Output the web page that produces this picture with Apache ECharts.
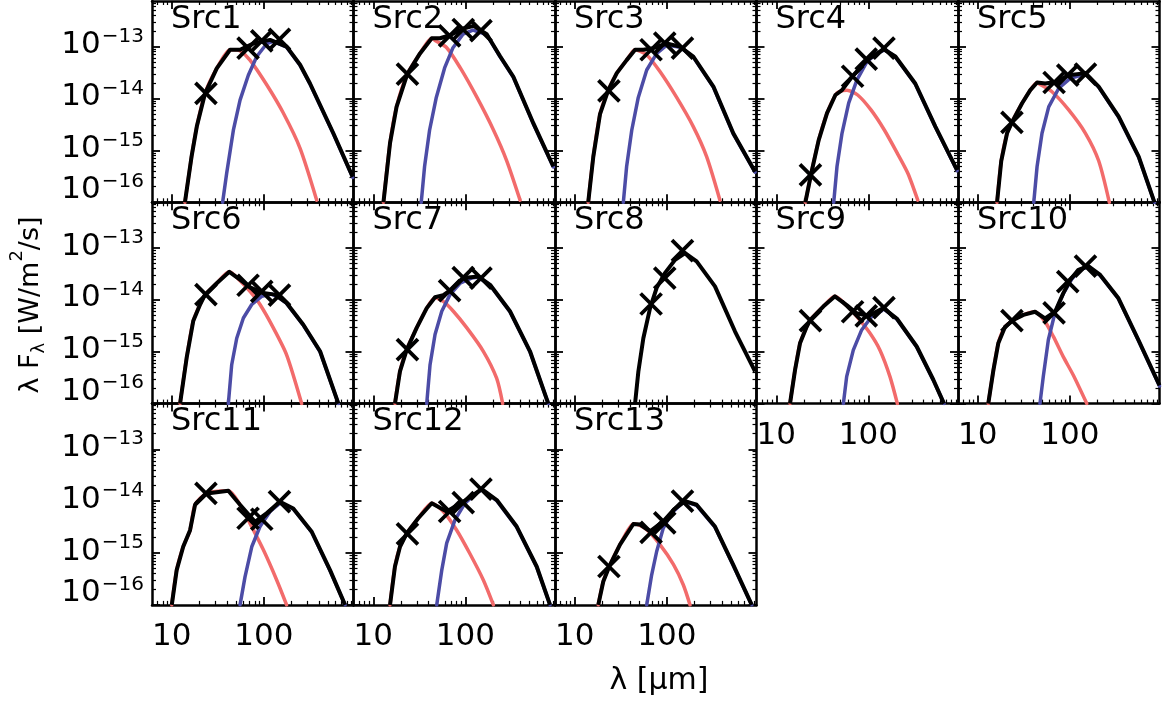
<!DOCTYPE html>
<html>
<head>
<meta charset="utf-8">
<script src="https://cdn.jsdelivr.net/npm/echarts@6.0.0/dist/echarts.min.js"></script>
<style>
html,body{margin:0;padding:0;background:#fff;}
#chart{width:1164px;height:704px;}
</style>
</head>
<body>
<div id="chart"></div>
<script>
// ---------------- DATA ----------------
// wavelengths in micron, fluxes lambda*F_lambda in W/m^2
const sourceNames = ['Src1','Src2','Src3','Src4','Src5','Src6','Src7','Src8','Src9','Src10','Src11','Src12','Src13'];
const bandWavelengths = [23.5, 67.5, 95, 148];
const xTickValues = [10, 100];
const yTickValues = [1e-16, 1e-15, 1e-14, 1e-13];

const src1Total = [[13.9,1.0e-16],[16.4,7.59e-16],[18.7,2.88e-15],[23.0,1.26e-14],[30.8,3.80e-14],[43.0,8.71e-14],[55.2,8.71e-14],[76.9,1.15e-13],[117,1.35e-13],[177,1.0e-13],[248,4.47e-14],[318,1.95e-14],[570,2.14e-15],[925,3.09e-16]];
const src1Warm = [[13.9,1.0e-16],[16.4,7.59e-16],[18.7,2.88e-15],[23.0,1.26e-14],[30.8,3.80e-14],[43.0,8.71e-14],[46.7,8.71e-14],[55.2,8.32e-14],[70.8,5.50e-14],[108,1.82e-14],[163,5.25e-15],[248,1.10e-15],[376,1.10e-16]];
const src1Cold = [[35.7,1.0e-16],[39.5,3.63e-16],[46.7,2.45e-15],[55.2,9.33e-15],[67.9,2.82e-14],[83.8,6.46e-14],[108,1.15e-13],[127,1.26e-13],[177,9.8e-14],[248,4.37e-14],[318,1.91e-14],[570,2.09e-15],[925,3.02e-16]];
const src1Obs = [1.26e-14, 9.33e-14, 1.29e-13, 1.38e-13];

const src2Total = [[12.9,1.0e-16],[15.2,1.38e-15],[17.9,6.92e-15],[23.4,2.95e-14],[32.2,7.41e-14],[43.2,1.45e-13],[53.2,1.45e-13],[68.4,1.66e-13],[95.5,2.24e-13],[123,2.51e-13],[171,1.74e-13],[238,6.61e-14],[333,2.63e-14],[550,3.31e-15],[906,4.90e-16]];
const src2Warm = [[12.9,1.0e-16],[15.2,1.38e-15],[17.9,6.92e-15],[23.4,2.95e-14],[32.2,7.41e-14],[43.2,1.45e-13],[46.9,1.32e-13],[62.8,9.55e-14],[88.3,3.89e-14],[134,1.05e-14],[203,2.45e-15],[282,6.31e-16],[394,1.10e-16]];
const src2Cold = [[33.2,1.0e-16],[36.1,4.90e-16],[40.9,2.45e-15],[48.4,1.05e-14],[59.6,3.89e-14],[73.5,9.55e-14],[94.4,1.74e-13],[121,2.09e-13],[171,1.70e-13],[238,6.46e-14],[333,2.57e-14],[550,3.24e-15],[906,4.79e-16]];
const src2Obs = [2.95e-14, 1.62e-13, 2.14e-13, 2.04e-13];

const src3Total = [[14.0,1.0e-16],[15.9,7.59e-16],[18.8,5.01e-15],[23.1,1.45e-14],[28.6,3.09e-14],[36.6,5.50e-14],[45.2,8.71e-14],[55.6,8.71e-14],[71.3,9.33e-14],[99.8,1.15e-13],[139,1.0e-13],[194,6.46e-14],[321,1.70e-14],[528,2.14e-15],[910,3.89e-16]];
const src3Warm = [[14.0,1.0e-16],[15.9,7.59e-16],[18.8,5.01e-15],[23.1,1.45e-14],[28.6,3.09e-14],[36.6,5.50e-14],[45.2,8.71e-14],[60.5,6.92e-14],[84.3,3.31e-14],[128,1.05e-14],[194,2.88e-15],[271,7.59e-16],[378,1.10e-16]];
const src3Cold = [[33.7,1.0e-16],[36.6,4.90e-16],[41.6,2.45e-15],[49.0,1.05e-14],[60.5,3.55e-14],[77.8,7.41e-14],[99.8,1.07e-13],[139,9.77e-14],[194,6.31e-14],[321,1.66e-14],[528,2.09e-15],[910,3.80e-16]];
const src3Obs = [1.41e-14, 8.71e-14, 1.17e-13, 9.33e-14];

const src4Total = [[20.7,1.0e-16],[24.0,3.63e-16],[28.9,1.58e-15],[35.6,5.25e-15],[43.9,1.17e-14],[51.8,1.45e-14],[66.5,2.63e-14],[96.8,5.50e-14],[147,8.91e-14],[197,6.46e-14],[324,1.95e-14],[536,2.88e-15],[923,4.17e-16]];
const src4Warm = [[20.7,1.0e-16],[24.0,3.63e-16],[28.9,1.58e-15],[35.6,5.25e-15],[43.9,1.17e-14],[47.8,1.35e-14],[58.7,1.45e-14],[76.7,1.17e-14],[107,6.03e-15],[150,2.45e-15],[209,8.51e-16],[269,3.63e-16],[345,1.10e-16]];
const src4Cold = [[42.1,1.0e-16],[45.7,4.90e-16],[51.8,2.14e-15],[61.2,8.13e-15],[75.3,2.29e-14],[96.8,5.13e-14],[124,7.41e-14],[153,8.71e-14],[197,6.31e-14],[324,1.91e-14],[536,2.82e-15],[923,4.07e-16]];
const src4Obs = [3.39e-16, 2.69e-14, 5.75e-14, 9.33e-14];

const src5Total = [[16.2,1.0e-16],[18.0,6.31e-16],[20.8,2.14e-15],[23.6,3.55e-15],[30.3,8.13e-15],[37.2,1.45e-14],[44.1,2.04e-14],[54.2,1.95e-14],[69.7,2.09e-14],[97.3,2.82e-14],[148,3.09e-14],[206,1.70e-14],[340,4.47e-15],[561,7.59e-16],[832,1.0e-16]];
const src5Warm = [[16.2,1.0e-16],[18.0,6.31e-16],[20.8,2.14e-15],[23.6,3.55e-15],[30.3,8.13e-15],[37.2,1.45e-14],[44.1,2.04e-14],[45.9,1.95e-14],[64.1,1.35e-14],[97.3,6.03e-15],[148,2.14e-15],[206,6.31e-16],[269,1.0e-16]];
const src5Cold = [[40.6,1.0e-16],[44.1,4.90e-16],[49.9,2.14e-15],[59.0,6.92e-15],[75.9,1.58e-14],[101,2.45e-14],[136,2.82e-14],[148,3.02e-14],[206,1.66e-14],[340,4.37e-15],[561,7.41e-16],[832,1.0e-16]];
const src5Obs = [3.47e-15, 2.04e-14, 2.82e-14, 2.95e-14];

const src6Total = [[12.3,1.0e-16],[14.5,7.59e-16],[17.1,3.89e-15],[20.3,8.13e-15],[23.0,1.26e-14],[30.8,2.09e-14],[42.2,3.47e-14],[55.2,2.45e-14],[70.8,1.74e-14],[98.9,1.35e-14],[132,1.26e-14],[177,8.71e-15],[269,3.31e-15],[409,1.02e-15],[647,1.0e-16]];
const src6Warm = [[12.3,1.0e-16],[14.5,7.59e-16],[17.1,3.89e-15],[20.3,8.13e-15],[23.0,1.26e-14],[30.8,2.09e-14],[42.2,3.47e-14],[55.2,2.34e-14],[70.8,1.45e-14],[91.0,8.13e-15],[127,2.88e-15],[177,8.71e-16],[258,1.0e-16]];
const src6Cold = [[41.2,1.0e-16],[44.8,5.62e-16],[50.8,1.82e-15],[60.0,4.47e-15],[74.0,8.13e-15],[94.8,1.17e-14],[122,1.29e-14],[150,1.07e-14],[177,8.51e-15],[269,3.24e-15],[409,1.0e-15],[647,1.0e-16]];
const src6Obs = [1.26e-14, 1.91e-14, 1.45e-14, 1.23e-14];

const src7Total = [[17.2,1.0e-16],[19.5,4.17e-16],[23.1,1.10e-15],[29.6,2.88e-15],[38.1,6.92e-15],[46.9,1.12e-14],[57.7,1.23e-14],[71.1,1.58e-14],[95.3,2.63e-14],[138,2.82e-14],[186,1.95e-14],[306,6.03e-15],[505,1.02e-15],[798,1.0e-16]];
const src7Warm = [[17.2,1.0e-16],[19.5,4.17e-16],[23.1,1.10e-15],[29.6,2.88e-15],[38.1,6.92e-15],[46.9,1.10e-14],[57.7,9.33e-15],[74.1,6.03e-15],[104,2.88e-15],[157,1.02e-15],[219,3.09e-16],[255,1.0e-16]];
const src7Cold = [[38.1,1.0e-16],[41.4,5.62e-16],[46.9,2.14e-15],[55.5,6.03e-15],[68.2,1.26e-14],[87.7,2.09e-14],[117,2.63e-14],[138,2.75e-14],[186,1.91e-14],[306,5.89e-15],[505,1.0e-15],[798,1.0e-16]];
const src7Obs = [1.10e-15, 1.51e-14, 2.69e-14, 2.63e-14];

const src8Total = [[45.2,1.0e-16],[49.1,4.17e-16],[55.6,1.82e-15],[65.8,6.92e-15],[77.6,1.70e-14],[95.7,3.31e-14],[123,5.89e-14],[158,7.94e-14],[211,5.50e-14],[334,1.82e-14],[552,2.45e-15],[910,4.17e-16]];
const src8Warm = [];
const src8Cold = [];
const src8Obs = [null, 8.32e-15, 2.63e-14, 8.91e-14];

const src9Total = [[14.1,1.0e-16],[16.0,4.47e-16],[18.1,1.45e-15],[21.4,3.02e-15],[23.3,4.07e-15],[32.4,7.41e-15],[43.4,1.17e-14],[58.2,7.94e-15],[74.8,5.50e-15],[100,4.90e-15],[146,6.92e-15],[204,4.37e-15],[336,1.26e-15],[509,2.88e-16],[665,1.0e-16]];
const src9Warm = [[14.1,1.0e-16],[16.0,4.47e-16],[18.1,1.45e-15],[21.4,3.02e-15],[23.3,4.07e-15],[32.4,7.41e-15],[43.4,1.17e-14],[58.2,7.76e-15],[74.8,4.79e-15],[104,2.29e-15],[134,1.07e-15],[172,3.31e-16],[207,1.0e-16]];
const src9Cold = [[53.6,1.0e-16],[58.2,3.31e-16],[68.7,1.07e-15],[84.7,2.63e-15],[109,4.79e-15],[140,6.17e-15],[146,6.76e-15],[204,4.27e-15],[336,1.23e-15],[509,2.82e-16],[665,1.0e-16]];
const src9Obs = [3.98e-15, 5.89e-15, 4.90e-15, 7.08e-15];

const src10Total = [[13.0,1.0e-16],[14.8,4.47e-16],[16.7,1.45e-15],[19.8,3.02e-15],[24.3,4.07e-15],[31.3,5.13e-15],[41.9,5.89e-15],[53.8,4.37e-15],[69.2,5.89e-15],[85.1,1.35e-14],[101,2.40e-14],[124,3.80e-14],[159,4.47e-14],[214,3.02e-14],[338,1.07e-14],[556,1.70e-15],[944,2.24e-16]];
const src10Warm = [[13.0,1.0e-16],[14.8,4.47e-16],[16.7,1.45e-15],[19.8,3.02e-15],[24.3,4.07e-15],[31.3,5.13e-15],[41.9,5.89e-15],[53.8,3.80e-15],[66.4,1.95e-15],[85.1,7.94e-16],[109,3.55e-16],[153,1.0e-16]];
const src10Cold = [[47.4,1.0e-16],[51.5,3.31e-16],[58.5,1.70e-15],[69.2,5.75e-15],[85.1,1.32e-14],[105,2.51e-14],[129,3.80e-14],[159,4.37e-14],[214,2.95e-14],[338,1.05e-14],[556,1.66e-15],[944,2.19e-16]];
const src10Obs = [3.98e-15, 5.62e-15, 2.24e-14, 4.47e-14];

const src11Total = [[10.0,1.0e-16],[11.3,4.68e-16],[13.3,1.32e-15],[15.8,2.75e-15],[17.9,8.51e-15],[24.0,1.41e-14],[41.2,1.58e-14],[55.2,8.51e-15],[80.4,3.98e-15],[108,5.89e-15],[150,9.77e-15],[209,7.24e-15],[332,2.57e-15],[525,4.68e-16],[764,1.0e-16]];
const src11Warm = [[10.0,1.0e-16],[11.3,4.68e-16],[13.3,1.32e-15],[15.8,2.75e-15],[17.9,8.51e-15],[24.0,1.41e-14],[41.2,1.58e-14],[55.2,8.51e-15],[70.8,3.72e-15],[98.9,1.15e-15],[138,3.02e-16],[177,1.0e-16]];
const src11Cold = [[55.2,1.0e-16],[62.5,3.47e-16],[74.0,1.32e-15],[91.0,3.24e-15],[117,6.31e-15],[150,9.12e-15],[209,7.08e-15],[332,2.51e-15],[525,4.57e-16],[764,1.0e-16]];
const src11Obs = [1.41e-14, 4.68e-15, 4.47e-15, 9.77e-15];

const src12Total = [[15.2,1.0e-16],[17.2,5.50e-16],[19.5,1.32e-15],[23.1,2.40e-15],[30.8,4.68e-15],[43.2,9.12e-15],[62.8,6.31e-15],[95.3,9.77e-15],[151,1.70e-14],[220,1.05e-14],[362,3.24e-15],[597,5.50e-16],[834,1.0e-16]];
const src12Warm = [[15.2,1.0e-16],[17.2,5.50e-16],[19.5,1.32e-15],[23.1,2.40e-15],[30.8,4.68e-15],[43.2,9.12e-15],[57.7,6.31e-15],[80.7,2.75e-15],[112,9.77e-16],[157,3.02e-16],[202,1.0e-16]];
const src12Cold = [[48.9,1.0e-16],[55.5,4.68e-16],[62.8,1.55e-15],[77.3,4.37e-15],[99.3,9.12e-15],[128,1.38e-14],[151,1.66e-14],[220,1.02e-14],[362,3.16e-15],[597,5.37e-16],[834,1.0e-16]];
const src12Obs = [2.34e-15, 6.31e-15, 9.33e-15, 1.70e-14];

const src13Total = [[18.0,1.0e-16],[20.4,2.82e-16],[23.7,5.50e-16],[31.0,1.45e-15],[43.3,3.63e-15],[51.2,3.55e-15],[65.8,2.63e-15],[91.6,4.07e-15],[118,6.76e-15],[158,1.0e-14],[211,8.51e-15],[334,3.24e-15],[528,5.89e-16],[838,1.0e-16]];
const src13Warm = [[18.0,1.0e-16],[20.4,2.82e-16],[23.7,5.50e-16],[31.0,1.45e-15],[43.3,3.63e-15],[45.2,3.63e-15],[60.5,2.82e-15],[84.3,1.45e-15],[118,6.03e-16],[151,2.45e-16],[179,1.0e-16]];
const src13Cold = [[60.5,1.0e-16],[68.5,3.80e-16],[77.6,1.07e-15],[91.6,3.02e-15],[113,5.89e-15],[145,8.91e-15],[158,9.77e-15],[211,8.32e-15],[334,3.16e-15],[528,5.75e-16],[838,1.0e-16]];
const src13Obs = [5.50e-16, 2.51e-15, 3.80e-15, 1.0e-14];

// ---------------- LAYOUT / STYLE ----------------
const totals = [src1Total,src2Total,src3Total,src4Total,src5Total,src6Total,src7Total,src8Total,src9Total,src10Total,src11Total,src12Total,src13Total];
const warms  = [src1Warm,src2Warm,src3Warm,src4Warm,src5Warm,src6Warm,src7Warm,src8Warm,src9Warm,src10Warm,src11Warm,src12Warm,src13Warm];
const colds  = [src1Cold,src2Cold,src3Cold,src4Cold,src5Cold,src6Cold,src7Cold,src8Cold,src9Cold,src10Cold,src11Cold,src12Cold,src13Cold];
const obss   = [src1Obs,src2Obs,src3Obs,src4Obs,src5Obs,src6Obs,src7Obs,src8Obs,src9Obs,src10Obs,src11Obs,src12Obs,src13Obs];

const FONT = 'DejaVu Sans';
const WARM_COLOR = '#F26B6B';
const COLD_COLOR = '#4C4CA6';
const NCOL = 5, LEFT0 = 152, CELL_W = 201.5, TOP0 = 1, CELL_H = 201.3;
const X_MIN = 0.785, X_MAX = 2.975;   // log10(micron)
const Y_MIN = -16, Y_MAX = -12.12;    // log10(W/m^2)
const lg = Math.log10;

const majorX = xTickValues.map(v => Math.round(lg(v)));
const majorY = yTickValues.map(v => Math.round(lg(v)));
const minorX = [];
for (let d = 0; d <= 2; d++) for (let k = 2; k <= 9; k++) { const v = d + lg(k); if (v > X_MIN && v < X_MAX) minorX.push(v); }
const minorY = [];
for (let d = -16; d <= -13; d++) for (let k = 2; k <= 9; k++) { const v = d + lg(k); if (v > Y_MIN && v < Y_MAX) minorY.push(v); }

const toLog = arr => arr.map(p => [lg(p[0]), lg(p[1])]);

const grids = [], xAxes = [], yAxes = [], series = [], graphics = [];

function makeAxis(kind, i, pos, minor, labels) {
  const isX = kind === 'x';
  const ax = {
    type: 'value', gridIndex: i, position: pos,
    min: isX ? X_MIN : Y_MIN, max: isX ? X_MAX : Y_MAX,
    axisLine: { show: !minor, onZero: false, lineStyle: { color: '#000', width: 2.5 } },
    axisTick: { show: true, inside: true,
      customValues: minor ? (isX ? minorX : minorY) : (isX ? majorX : majorY),
      length: minor ? 4 : 8,
      lineStyle: { color: '#000', width: minor ? 1.2 : 1.8 } },
    splitLine: { show: false },
    minorTick: { show: false },
    axisLabel: { show: false }
  };
  if (labels) {
    if (isX) {
      ax.axisLabel = { show: true, customValues: majorX, margin: 17, color: '#000',
        fontFamily: FONT, fontSize: 31,
        formatter: v => String(Math.round(Math.pow(10, v))) };
    } else {
      ax.axisLabel = { show: true, customValues: majorY, margin: 8, color: '#000',
        fontFamily: FONT,
        formatter: v => { const e = Math.round(v); return (e === Y_MIN ? '{b|10}' : '{a|10}') + '{s|\u2212' + (-e) + '}'; },
        rich: {
          a: { fontSize: 31, fontFamily: FONT, color: '#000', padding: [3, 0, 6, 0] },
          b: { fontSize: 31, fontFamily: FONT, color: '#000', padding: [3, 0, 27, 0] },
          s: { fontSize: 20, fontFamily: FONT, color: '#000', verticalAlign: 'top', padding: [0, 0, 0, 1] }
        } };
    }
  }
  return ax;
}

sourceNames.forEach((name, i) => {
  const c = i % NCOL, r = Math.floor(i / NCOL);
  const left = LEFT0 + c * CELL_W, top = TOP0 + r * CELL_H;
  grids.push({ left: left, top: top, width: CELL_W, height: CELL_H, containLabel: false });
  const showX = (i >= 10) || (i === 8) || (i === 9);
  const showY = (c === 0);
  xAxes.push(makeAxis('x', i, 'bottom', false, showX));
  xAxes.push(makeAxis('x', i, 'bottom', true, false));
  xAxes.push(makeAxis('x', i, 'top', false, false));
  xAxes.push(makeAxis('x', i, 'top', true, false));
  yAxes.push(makeAxis('y', i, 'left', false, showY));
  yAxes.push(makeAxis('y', i, 'left', true, false));
  yAxes.push(makeAxis('y', i, 'right', false, false));
  yAxes.push(makeAxis('y', i, 'right', true, false));

  const base = { xAxisIndex: 4 * i, yAxisIndex: 4 * i, silent: true, animation: false };
  if (warms[i].length) series.push(Object.assign({ type: 'line', name: name + ' warm', data: toLog(warms[i]),
    showSymbol: false, symbol: 'none', smooth: 0.25, z: 2,
    lineStyle: { color: WARM_COLOR, width: 3.5, cap: 'round', join: 'round' } }, base));
  if (colds[i].length) series.push(Object.assign({ type: 'line', name: name + ' cold', data: toLog(colds[i]),
    showSymbol: false, symbol: 'none', z: 3,
    lineStyle: { color: COLD_COLOR, width: 3.5, cap: 'round', join: 'round' } }, base));
  series.push(Object.assign({ type: 'line', name: name + ' total', data: toLog(totals[i]),
    showSymbol: false, symbol: 'none', z: 4,
    lineStyle: { color: '#000', width: 4, join: 'round' } }, base));
  const obsPts = [];
  obss[i].forEach((f, k) => { if (f != null) obsPts.push([lg(bandWavelengths[k]), lg(f)]); });
  series.push(Object.assign({ type: 'scatter', name: name + ' obs', data: obsPts, z: 5,
    symbol: 'path://M0,0L10,10M10,0L0,10', symbolSize: 21,
    itemStyle: { color: 'transparent', borderColor: '#000', borderWidth: 3.8, opacity: 1 } }, base));

  graphics.push({ type: 'text', x: left + 19, y: top + 18.5, silent: true, z: 10,
    style: { text: name, fontFamily: FONT, fontSize: 32, fill: '#000', align: 'left', verticalAlign: 'middle' } });
});

graphics.push({ type: 'text', x: 28, y: 305, rotation: Math.PI / 2, silent: true,
  style: { text: '{n|\u03bb F}{sub|\u03bb}{n| [W/m}{sup|2}{n|/s]}', align: 'center', verticalAlign: 'middle',
    fill: '#000',
    rich: {
      n: { fontFamily: FONT, fontSize: 27, fill: '#000', padding: [9, 0, 4, 0] },
      sub: { fontFamily: FONT, fontSize: 18, fill: '#000', verticalAlign: 'bottom' },
      sup: { fontFamily: FONT, fontSize: 18, fill: '#000', verticalAlign: 'top' }
    } } });
graphics.push({ type: 'text', x: 659, y: 681, silent: true,
  style: { text: '\u03bb [\u03bcm]', fontFamily: FONT, fontSize: 30, fill: '#000', align: 'center', verticalAlign: 'middle' } });

const chart = echarts.init(document.getElementById('chart'), null, { renderer: 'canvas' });
chart.setOption({
  animation: false,
  backgroundColor: '#fff',
  textStyle: { fontFamily: FONT },
  grid: grids,
  xAxis: xAxes,
  yAxis: yAxes,
  series: series,
  graphic: graphics
});
</script>
</body>
</html>
